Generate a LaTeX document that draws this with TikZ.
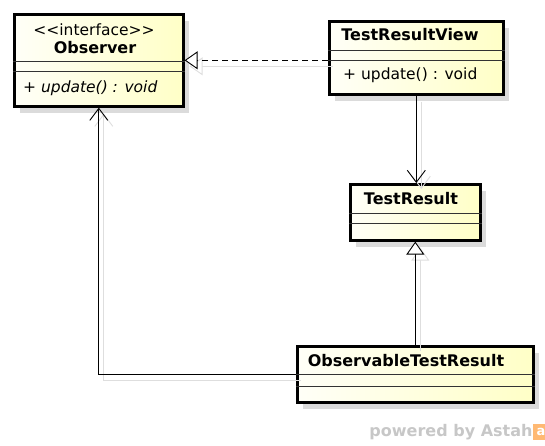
\documentclass[tikz,border=0pt]{standalone}
\usepackage{fontspec}
\setmainfont{DejaVu Sans}
\usepackage{xcolor}
\usetikzlibrary{arrows.meta,shadows,positioning}

\tikzset{
	classbox/.style={draw, line width=2.6pt, anchor=north west, inner sep=0pt,
		left color=yellow!3, right color=yellow!22,
		drop shadow={shadow xshift=6pt, shadow yshift=-7pt, fill=black!14, opacity=1}},
	divider/.style={draw=black!80, line width=0.9pt},
	classname/.style={font=\fontsize{16pt}{18pt}\selectfont\bfseries, inner sep=0pt},
	member/.style={font=\fontsize{15.5pt}{18pt}\selectfont, inner sep=0pt, anchor=west},
	conn/.style={line width=0.9pt},
	gen/.style={conn, -{Triangle[open, fill=white, length=13pt, width=18pt]}},
	real/.style={gen, dash pattern=on 6pt off 4pt},
	assoc/.style={conn, -{Straight Barb[length=12pt, width=18pt]}},
	lineshadow/.style={draw=black!13, transform canvas={shift={(5pt,-6pt)}}}
}

\begin{document}
\begin{tikzpicture}[x=1pt,y=-1pt]
	\useasboundingbox (0,0) rectangle (545,445);

	\node[classbox, minimum width=169pt, minimum height=92pt] (obs) at (13,13) {};
	\node[classbox, minimum width=174pt, minimum height=73pt] (trv) at (328,20) {};
	\node[classbox, minimum width=130pt, minimum height=56pt] (tr) at (349,183) {};
	\node[classbox, minimum width=236pt, minimum height=56pt] (otr) at (296,345) {};

	\draw[divider] ([yshift=-48pt]obs.north west) -- ([yshift=-48pt]obs.north east)
	([yshift=-58pt]obs.north west) -- ([yshift=-58pt]obs.north east);
	\draw[divider] ([yshift=-30pt]trv.north west) -- ([yshift=-30pt]trv.north east)
	([yshift=-40pt]trv.north west) -- ([yshift=-40pt]trv.north east);
	\draw[divider] ([yshift=-30pt]tr.north west) -- ([yshift=-30pt]tr.north east)
	([yshift=-40pt]tr.north west) -- ([yshift=-40pt]tr.north east);
	\draw[divider] ([yshift=-29pt]otr.north west) -- ([yshift=-29pt]otr.north east)
	([yshift=-41pt]otr.north west) -- ([yshift=-41pt]otr.north east);

	\node[member, anchor=center] (obsstereo) at (94,30) {<\kern0pt<interface>\kern0pt>};
	\node[classname]     (obsname) at (95,48) {Observer};
	\node[member]        (obsop) at (23,88) {\itshape + update() : void};
	\node[classname]     (trvname) at (410,35) {TestResultView};
	\node[member]        (trvop) at (343,75) {+ update() : void};
	\node[classname]     (trname) at (411,199) {TestResult};
	\node[classname]     (otrname) at (406,361) {ObservableTestResult};

	\draw[real, lineshadow, solid] (trv.west |- obs.east) -- (obs.east);
	\draw[assoc, lineshadow] (trv.south) -- (trv.south |- tr.north);
	\draw[gen, lineshadow] (tr.south |- otr.north) -- (tr.south);
	\draw[assoc, lineshadow] (otr.west) -| (obs.south);

	\draw[real] (trv.west |- obs.east) -- (obs.east);
	\draw[assoc] (trv.south) -- (trv.south |- tr.north);
	\draw[gen] (tr.south |- otr.north) -- (tr.south);
	\draw[assoc] (otr.west) -| (obs.south);

	\node[classname, text=black!22] (brand) at (451,432) {powered by Astah};
	\node[fill=orange!55, text=white, minimum size=16pt, inner sep=0pt,
	font=\fontsize{13pt}{15pt}\selectfont\bfseries] (logo) [right=0pt of brand] {a};
\end{tikzpicture}
\end{document}
